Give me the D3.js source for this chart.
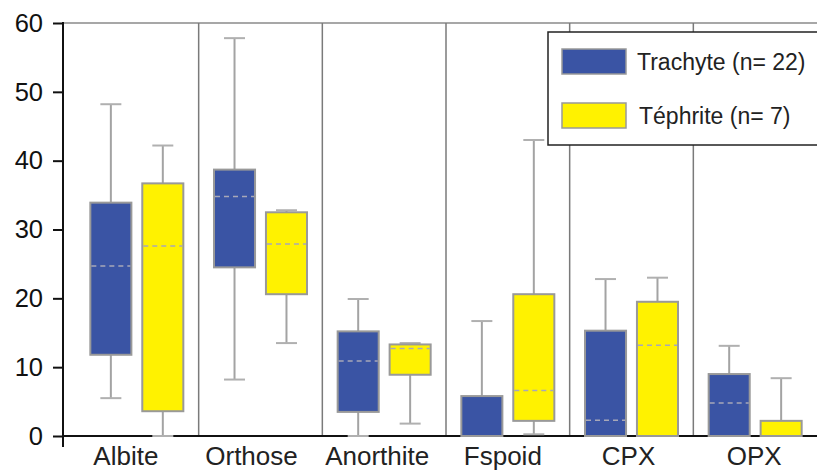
<!DOCTYPE html>
<html><head><meta charset="utf-8">
<script src="https://cdn.jsdelivr.net/npm/d3@7"></script>
<style>body{margin:0;background:#fff}svg{display:block}</style>
</head><body>
<svg id="c" width="817" height="472"></svg>
<script>
const categories = ["Albite","Orthose","Anorthite","Fspoid","CPX","OPX"];
const series = ["Trachyte (n= 22)","Téphrite (n= 7)"];
const seriesColors = ["#3a54a4","#fff200"];
const yTicks = [0,10,20,30,40,50,60];

const trachyteMin = [5.5, 8.2, 0, 0, 0, 0];
const trachyteQ1  = [11.8, 24.5, 3.5, 0, 0, 0];
const trachyteMed = [24.7, 34.8, 10.9, 0, 2.3, 4.8];
const trachyteQ3  = [33.9, 38.7, 15.2, 5.8, 15.3, 9.0];
const trachyteMax = [48.2, 57.8, 19.9, 16.7, 22.8, 13.1];

const tephriteMin = [0, 13.5, 1.8, 0.25, 0, 0];
const tephriteQ1  = [3.6, 20.6, 8.9, 2.2, 0, 0];
const tephriteMed = [27.6, 27.9, 12.7, 6.6, 13.2, 0];
const tephriteQ3  = [36.7, 32.5, 13.3, 20.6, 19.5, 2.2];
const tephriteMax = [42.2, 32.8, 13.5, 43.0, 23.0, 8.4];

const stats = [
  {min: trachyteMin, q1: trachyteQ1, med: trachyteMed, q3: trachyteQ3, max: trachyteMax},
  {min: tephriteMin, q1: tephriteQ1, med: tephriteMed, q3: tephriteQ3, max: tephriteMax}
];

const svg = d3.select("#c");
const mLeft = 63, mRight = 817, mTop = 23, mBottom = 436;

const y = d3.scaleLinear().domain([0,60]).range([mBottom, mTop]);
const xLabel = d3.scaleBand().domain(categories).range([mLeft, mRight]);
const xBox = d3.scaleBand().domain(categories).range([75, mRight]);
const xSub = d3.scaleBand().domain(series).range([-46.5, 46.5]).paddingInner(0.21);

svg.append("rect").attr("width",817).attr("height",472).attr("fill","#fff");

svg.append("line").attr("x1",mLeft).attr("x2",mRight).attr("y1",y(60)).attr("y2",y(60))
  .attr("stroke","#8a8a8a").attr("stroke-width",1.5);

svg.selectAll("line.div").data(categories.slice(1)).join("line")
  .attr("x1",d=>xBox(d)).attr("x2",d=>xBox(d))
  .attr("y1",y(60)).attr("y2",y(0))
  .attr("stroke","#7a7a7a").attr("stroke-width",1.5);

const yAxis = svg.append("g").attr("transform",`translate(${mLeft},0)`)
  .call(d3.axisLeft(y).tickValues(yTicks).tickSize(10).tickPadding(10));
yAxis.select(".domain").remove();
yAxis.selectAll(".tick line").attr("stroke","#111").attr("stroke-width",2);
yAxis.selectAll(".tick text").attr("font-family","Liberation Sans, Arial, sans-serif")
  .attr("font-size",25.5).attr("fill","#111");
svg.append("line").attr("x1",mLeft).attr("x2",mLeft).attr("y1",y(60)-1).attr("y2",447)
  .attr("stroke","#111").attr("stroke-width",2);
svg.append("line").attr("x1",mLeft).attr("x2",mRight).attr("y1",y(0)).attr("y2",y(0))
  .attr("stroke","#111").attr("stroke-width",2);

svg.selectAll("text.cat").data(categories).join("text")
  .attr("x",d=>xLabel(d)+xLabel.bandwidth()/2).attr("y",465)
  .attr("text-anchor","middle").attr("font-family","Liberation Sans, Arial, sans-serif")
  .attr("font-size",26).attr("fill","#222").text(d=>d);

const grey = "#a3a3a3";
series.forEach((s, si) => {
  const st = stats[si];
  const g = svg.append("g");
  categories.forEach((c, i) => {
    const cx = xBox(c) + xBox.bandwidth()/2 + xSub(s);
    const w = xSub.bandwidth();
    const mid = cx + w/2;
    g.append("line").attr("x1",mid).attr("x2",mid).attr("y1",y(st.max[i])).attr("y2",y(st.q3[i]))
      .attr("stroke",grey).attr("stroke-width",2);
    g.append("line").attr("x1",mid).attr("x2",mid).attr("y1",y(st.q1[i])).attr("y2",y(st.min[i]))
      .attr("stroke",grey).attr("stroke-width",2);
    [st.max[i], st.min[i]].forEach(v => {
      g.append("line").attr("x1",mid-10.5).attr("x2",mid+10.5).attr("y1",y(v)).attr("y2",y(v))
        .attr("stroke","#b0b0b0").attr("stroke-width",2);
    });
    g.append("rect").attr("x",cx).attr("width",w)
      .attr("y",y(st.q3[i])).attr("height",y(st.q1[i]) - y(st.q3[i]))
      .attr("fill",seriesColors[si]).attr("stroke","#999").attr("stroke-width",2);
    if (st.med[i] > 0) {
      g.append("line").attr("x1",cx+1).attr("x2",cx+w-1).attr("y1",y(st.med[i])).attr("y2",y(st.med[i]))
        .attr("stroke","#a8a8b8").attr("stroke-width",1.5).attr("stroke-dasharray","5,4");
    }
  });
});

const lg = svg.append("g");
lg.append("rect").attr("x",548).attr("y",32).attr("width",280).attr("height",113)
  .attr("fill","#fff").attr("stroke","#222").attr("stroke-width",1.5);
series.forEach((s, si) => {
  const yy = [49, 103][si];
  lg.append("rect").attr("x",562).attr("y",yy).attr("width",64).attr("height",25)
    .attr("fill",seriesColors[si]).attr("stroke","#999").attr("stroke-width",1.5);
  lg.append("text").attr("x",[637,639][si]).attr("y",yy+21)
    .attr("font-family","Liberation Sans, Arial, sans-serif").attr("font-size",23)
    .attr("fill","#222").text(s);
});
</script>
</body></html>
